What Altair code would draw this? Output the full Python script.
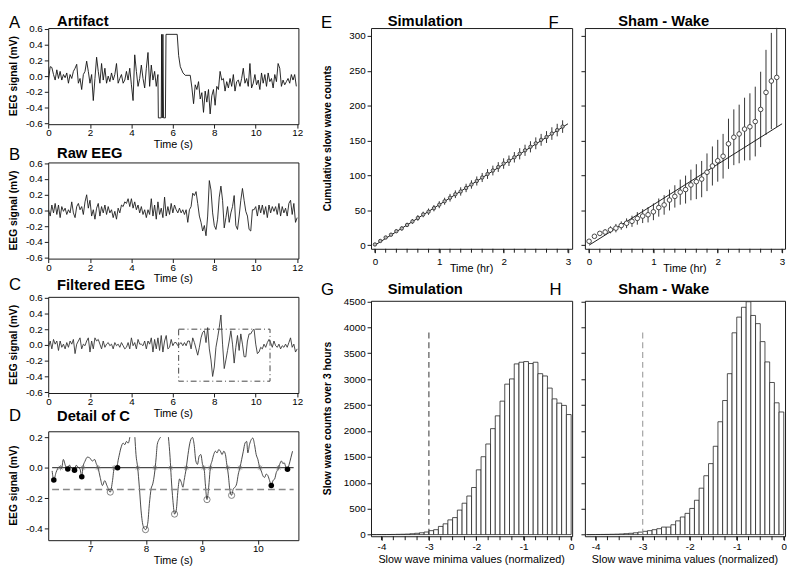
import altair as alt
import pandas as pd

FONT = "Liberation Sans"
INK = "#1a1a1a"

# ---------------- Panel A: artifact trace (time s, mV) ----------------
A_TRACE = [(0.00,-0.05),(0.08,0.12),(0.16,0.11),(0.24,0.02),(0.32,-0.05),(0.40,0.08),(0.48,-0.03),(0.56,0.06),
 (0.64,-0.05),(0.72,0.02),(0.80,-0.02),(0.88,0.04),(0.96,-0.09),(1.04,0.02),(1.12,-0.03),(1.20,0.06),(1.28,0.10),
 (1.36,0.15),(1.44,-0.09),(1.52,-0.03),(1.60,-0.17),(1.68,0.02),(1.76,0.06),(1.84,0.19),(1.92,0.06),(2.00,-0.09),
 (2.08,0.02),(2.16,-0.31),(2.24,-0.03),(2.32,0.24),(2.40,0.06),(2.48,-0.09),(2.56,0.16),(2.64,-0.05),(2.72,0.10),
 (2.80,-0.09),(2.88,0.00),(2.96,-0.07),(3.04,0.04),(3.12,-0.05),(3.20,0.02),(3.28,0.16),(3.36,-0.09),(3.44,-0.03),
 (3.52,0.02),(3.60,-0.09),(3.68,-0.05),(3.76,0.06),(3.84,-0.05),(3.92,0.10),(4.00,-0.11),(4.08,-0.31),(4.16,0.27),
 (4.24,0.06),(4.32,-0.13),(4.40,-0.03),(4.48,0.14),(4.56,-0.03),(4.64,-0.15),(4.72,0.10),(4.80,0.30),(4.88,-0.13),
 (4.96,0.14),(5.04,-0.05),(5.12,0.06),(5.20,-0.13),(5.28,0.02),
 (5.30,-0.53),(5.44,-0.53),(5.46,0.53),(5.49,-0.53),(5.52,0.53),(5.55,-0.53),(5.64,-0.53),(5.67,0.53),(6.21,0.53),
 (6.28,0.26),(6.36,0.12),(6.49,0.04),(6.60,0.01),(6.84,0.01),
 (6.92,-0.15),(7.00,-0.35),(7.08,-0.11),(7.16,-0.17),(7.24,-0.07),(7.32,-0.29),(7.40,-0.21),(7.48,-0.46),(7.56,-0.19),
 (7.64,-0.33),(7.72,-0.17),(7.80,-0.48),(7.88,-0.25),(7.96,-0.17),(8.04,-0.37),(8.12,-0.13),(8.20,-0.17),(8.28,0.06),
 (8.36,-0.05),(8.44,-0.03),(8.52,-0.19),(8.60,-0.07),(8.68,-0.15),(8.76,-0.03),(8.84,-0.13),(8.92,0.02),(9.00,-0.19),
 (9.08,-0.07),(9.16,-0.05),(9.24,-0.13),(9.32,-0.03),(9.40,0.10),(9.48,-0.09),(9.56,-0.03),(9.64,-0.13),(9.72,0.16),
 (9.80,-0.15),(9.88,-0.09),(9.96,0.02),(10.04,-0.11),(10.12,-0.05),(10.20,-0.17),(10.28,0.04),(10.36,-0.09),
 (10.44,0.02),(10.52,-0.13),(10.60,0.04),(10.68,-0.07),(10.76,-0.03),(10.84,-0.15),(10.92,0.02),(11.00,-0.07),
 (11.08,0.16),(11.16,0.10),(11.24,-0.13),(11.32,-0.05),(11.40,-0.11),(11.48,-0.07),(11.56,-0.03),(11.64,-0.09),
 (11.72,0.02),(11.80,-0.05),(11.88,0.02),(11.96,-0.13)]

# ---------------- Panel B: raw EEG ----------------
B_TRACE = [(0.00,0.01),(0.08,-0.07),(0.16,0.07),(0.24,-0.03),(0.32,0.09),(0.40,-0.05),(0.48,0.07),(0.56,-0.09),
 (0.64,0.05),(0.72,-0.01),(0.80,0.03),(0.88,-0.05),(0.96,0.01),(1.04,-0.03),(1.12,0.11),(1.20,-0.03),(1.28,-0.09),
 (1.36,0.05),(1.44,0.09),(1.52,0.01),(1.60,0.05),(1.68,-0.05),(1.76,0.11),(1.84,0.20),(1.92,0.03),(2.00,0.13),
 (2.08,-0.07),(2.16,0.01),(2.24,-0.11),(2.32,0.03),(2.40,0.09),(2.48,-0.07),(2.56,0.05),(2.64,-0.03),(2.72,0.07),
 (2.80,-0.05),(2.88,0.05),(2.96,-0.03),(3.04,0.01),(3.12,-0.09),(3.20,-0.01),(3.28,-0.11),(3.36,0.03),(3.44,-0.03),
 (3.52,0.07),(3.60,0.05),(3.68,0.11),(3.76,0.09),(3.84,0.15),(3.92,0.05),(4.00,0.15),(4.08,0.03),(4.16,0.11),
 (4.24,0.01),(4.32,0.07),(4.40,-0.03),(4.48,0.05),(4.56,-0.05),(4.64,0.01),(4.72,-0.09),(4.80,0.01),(4.88,-0.05),
 (4.96,0.15),(5.04,-0.07),(5.12,0.07),(5.20,-0.11),(5.28,0.11),(5.36,-0.05),(5.44,0.03),(5.52,-0.09),(5.60,0.17),
 (5.68,-0.07),(5.76,0.05),(5.84,-0.05),(5.92,0.09),(6.00,-0.03),(6.08,0.07),(6.16,0.01),(6.24,-0.03),(6.32,0.03),
 (6.40,-0.03),(6.48,0.01),(6.56,-0.05),(6.64,0.01),(6.72,-0.15),(6.80,0.01),(6.88,0.05),(6.96,0.22),(7.04,0.19),
 (7.12,0.24),(7.20,0.09),(7.28,-0.07),(7.36,-0.15),(7.44,-0.26),(7.52,-0.19),(7.60,-0.32),(7.68,-0.07),(7.76,0.38),
 (7.84,0.26),(7.92,-0.03),(8.00,-0.19),(8.08,-0.24),(8.16,-0.11),(8.24,0.17),(8.32,0.31),(8.40,0.13),(8.48,-0.22),
 (8.56,-0.09),(8.64,0.05),(8.72,-0.15),(8.80,-0.03),(8.88,0.05),(8.96,0.19),(9.04,-0.19),(9.12,-0.24),(9.20,-0.07),
 (9.28,0.13),(9.36,0.28),(9.44,0.13),(9.52,-0.01),(9.60,-0.07),(9.68,-0.24),(9.76,-0.26),(9.84,0.01),(9.92,0.01),
 (10.00,0.05),(10.08,-0.07),(10.16,0.07),(10.24,-0.03),(10.32,0.07),(10.40,-0.05),(10.48,0.05),(10.56,-0.09),
 (10.64,0.07),(10.72,-0.03),(10.80,0.05),(10.88,-0.01),(10.96,0.05),(11.04,-0.05),(11.12,0.09),(11.20,-0.07),
 (11.28,0.05),(11.36,-0.03),(11.44,0.03),(11.52,-0.07),(11.60,0.09),(11.68,0.13),(11.76,-0.05),(11.84,0.09),
 (11.92,-0.15),(12.00,-0.09)]

# ---------------- Panel C: filtered EEG ----------------
C_TRACE = [(0.00,-0.03),(0.08,0.05),(0.16,-0.05),(0.24,0.07),(0.32,0.01),(0.40,0.05),(0.48,-0.07),(0.56,0.05),
 (0.64,-0.03),(0.72,0.01),(0.80,-0.05),(0.88,0.03),(0.96,-0.03),(1.04,0.05),(1.12,0.01),(1.20,0.07),(1.28,-0.11),
 (1.36,0.01),(1.44,0.05),(1.52,0.09),(1.60,-0.05),(1.68,0.01),(1.76,-0.01),(1.84,0.05),(1.92,0.09),(2.00,-0.09),
 (2.08,0.05),(2.16,-0.05),(2.24,0.09),(2.32,0.05),(2.40,0.07),(2.48,0.01),(2.56,-0.05),(2.64,0.05),(2.72,-0.03),
 (2.80,0.01),(2.88,0.03),(2.96,-0.01),(3.04,0.01),(3.12,-0.05),(3.20,0.03),(3.28,-0.01),(3.36,0.01),(3.44,-0.03),
 (3.52,0.03),(3.60,-0.01),(3.68,-0.05),(3.76,-0.03),(3.84,0.03),(3.92,-0.05),(4.00,0.09),(4.08,-0.01),(4.16,0.03),
 (4.24,-0.05),(4.32,0.07),(4.40,0.01),(4.48,0.01),(4.56,-0.01),(4.64,0.05),(4.72,-0.05),(4.80,0.05),(4.88,0.01),
 (4.96,0.09),(5.04,-0.09),(5.12,0.07),(5.20,-0.05),(5.28,0.09),(5.36,-0.07),(5.44,0.12),(5.52,-0.09),(5.60,0.05),
 (5.68,0.12),(5.76,-0.05),(5.84,-0.03),(5.92,0.07),(6.00,-0.01),(6.08,0.03),(6.16,0.03),(6.24,-0.01),(6.32,0.01),
 (6.40,0.03),(6.48,-0.01),(6.56,0.03),(6.64,-0.01),(6.72,0.05),(6.80,0.05),(6.88,-0.05),(6.96,0.09),(7.04,0.03),
 (7.12,-0.05),(7.20,-0.13),(7.28,-0.03),(7.36,0.09),(7.44,0.16),(7.52,0.18),(7.60,0.03),(7.68,0.22),(7.76,-0.05),
 (7.84,-0.19),(7.92,-0.40),(8.00,-0.28),(8.08,-0.03),(8.16,0.09),(8.24,0.22),(8.32,0.38),(8.40,0.01),(8.48,-0.30),
 (8.56,-0.19),(8.64,-0.07),(8.72,0.05),(8.80,0.18),(8.88,0.01),(8.96,-0.23),(9.04,-0.03),(9.12,0.12),(9.20,-0.07),
 (9.28,0.14),(9.36,0.01),(9.44,-0.15),(9.52,-0.15),(9.60,0.05),(9.68,0.14),(9.76,0.14),(9.84,0.18),(9.92,0.20),
 (10.00,0.01),(10.08,-0.11),(10.16,-0.09),(10.24,-0.03),(10.32,-0.05),(10.40,0.01),(10.48,-0.03),(10.56,0.03),
 (10.64,0.07),(10.72,0.03),(10.80,-0.03),(10.88,0.05),(10.96,-0.01),(11.04,-0.03),(11.12,0.01),(11.20,-0.05),
 (11.28,-0.01),(11.36,-0.03),(11.44,0.01),(11.52,-0.03),(11.60,0.03),(11.68,0.09),(11.76,-0.03),(11.84,0.01),
 (11.92,-0.09),(12.00,-0.05)]
C_BOX = [(6.28, 10.69, -0.46, 0.20)]

# ---------------- Panel D: detail of C ----------------
D_TRACE = [(6.32,-0.021),(6.35,-0.081),(6.39,-0.031),(6.45,0.005),(6.49,-0.004),(6.52,0.054),(6.56,0.011),
 (6.60,-0.008),(6.63,0.018),(6.65,0.005),(6.68,-0.004),(6.72,-0.016),(6.75,0.016),(6.78,0.005),(6.82,-0.010),
 (6.85,-0.059),(6.87,0.001),(6.91,0.044),(6.95,0.069),(6.99,0.065),(7.04,0.044),(7.08,0.054),(7.11,0.026),
 (7.14,0.001),(7.18,-0.064),(7.22,-0.117),(7.26,-0.085),(7.30,-0.117),(7.36,-0.160),(7.40,-0.085),(7.43,-0.004),
 (7.47,0.001),(7.51,0.065),(7.55,0.129),(7.59,0.161),(7.62,0.151),(7.65,0.172),(7.68,0.161),(7.71,0.200),
 (7.75,0.26),(7.80,0.200),(7.82,0.086),(7.85,0.001),(7.88,-0.128),(7.91,-0.278),(7.95,-0.385),(7.99,-0.406),
 (8.03,-0.364),(8.06,-0.235),(8.09,-0.139),(8.12,-0.106),(8.15,-0.042),(8.18,0.065),(8.20,0.151),(8.23,0.183),
 (8.26,0.200),(8.33,0.38),(8.40,0.200),(8.43,0.065),(8.45,-0.064),(8.48,-0.214),(8.51,-0.304),(8.54,-0.278),
 (8.57,-0.149),(8.60,-0.074),(8.63,-0.096),(8.66,-0.128),(8.68,-0.085),(8.72,0.001),(8.75,0.086),(8.79,0.172),
 (8.83,0.198),(8.86,0.151),(8.89,0.044),(8.92,0.022),(8.95,0.076),(8.98,0.086),(9.01,0.022),(9.04,-0.010),
 (9.06,-0.106),(9.09,-0.209),(9.12,-0.128),(9.15,0.001),(9.18,0.044),(9.21,0.086),(9.24,0.108),(9.27,0.097),
 (9.30,0.119),(9.33,0.108),(9.36,0.086),(9.39,0.108),(9.42,0.086),(9.44,0.033),(9.47,-0.042),(9.50,-0.149),
 (9.53,-0.181),(9.56,-0.139),(9.59,-0.128),(9.62,-0.106),(9.65,-0.042),(9.68,0.001),(9.71,0.054),(9.74,0.108),
 (9.77,0.161),(9.80,0.172),(9.82,0.097),(9.85,0.151),(9.88,0.183),(9.91,0.194),(9.94,0.151),(9.97,0.086),
 (10.00,0.054),(10.03,0.005),(10.06,-0.021),(10.09,-0.053),(10.12,-0.064),(10.15,-0.042),(10.18,-0.053),
 (10.21,-0.085),(10.24,-0.117),(10.27,-0.085),(10.30,-0.074),(10.33,-0.031),(10.36,-0.010),(10.39,0.022),
 (10.42,0.044),(10.45,0.026),(10.47,0.033),(10.50,0.005),(10.53,-0.010),(10.56,0.022),(10.59,0.065),(10.62,0.108)]
D_CLIP = 0.2
D_CROSSINGS = [6.47, 6.87, 7.14, 7.43, 7.85, 8.16, 8.44, 8.72, 9.03, 9.15, 9.46, 9.68, 10.04, 10.37]
D_SMALL_MIN = [(6.35,-0.081),(6.60,-0.008),(6.72,-0.016),(6.85,-0.059),(7.49,0.0),(10.24,-0.117),(10.53,-0.010)]
D_SLOW_MIN = [(7.36,-0.160),(7.99,-0.406),(8.51,-0.304),(9.09,-0.209),(9.53,-0.181)]
D_SPAN = [6.32, 10.64]
D_THRESHOLD = -0.143

# ---------------- Panels E/F: cumulative counts ----------------
HOURS = [0.0,0.083,0.167,0.25,0.333,0.417,0.5,0.583,0.667,0.75,0.833,0.917,1.0,1.083,1.167,1.25,1.333,1.417,
         1.5,1.583,1.667,1.75,1.833,1.917,2.0,2.083,2.167,2.25,2.333,2.417,2.5,2.583,2.667,2.75,2.833,2.917]
E_MEAN = [1,6,11,15,20,24,29,34,39,44,48,53,58,63,68,73,77,82,87,92,97,102,107,112,117,121,126,131,136,141,
          146,151,155,160,165,170]
E_ERR = [1,1.5,2,2,2.5,3,3,3.5,4,4,4.5,4.5,5,5,5.5,5.5,6,6,6,6.5,6.5,7,7,7,7.5,7.5,7.5,8,8,8,8.5,8.5,8.5,9,9,9]
F_MEAN = [5.6,12.7,16.9,18.8,22,24.4,28.1,31.4,34.2,38.4,41.7,43.6,47.8,53.9,57.7,64.7,69.9,76,79.7,86.3,91,
          94.7,104.5,113.5,121,127.5,145.3,154.7,159.4,166.4,169.7,177.2,194.6,219,235.3,240.5]
F_ERR = [1,2,3,4,5,6,6,7,8,9,10,11,12,13,14,15,16,18,20,22,25,26,27,28,30,32,36,40,42,45,48,50,54,61,69,71]
FIT_T = [0, 3]
FIT_V = [0, 174]
HR_MAJOR = [0, 1, 2, 3]
HR_MINOR = [0,0.1667,0.3333,0.5,0.6667,0.8333,1,1.1667,1.3333,1.5,1.6667,1.8333,2,2.1667,2.3333,2.5,2.6667,
            2.8333,3]

# ---------------- Panels G/H: histograms ----------------
BIN_LEFT = [-4.2,-4.1,-4.0,-3.9,-3.8,-3.7,-3.6,-3.5,-3.4,-3.3,-3.2,-3.1,-3.0,-2.9,-2.8,-2.7,-2.6,-2.5,-2.4,-2.3,
            -2.2,-2.1,-2.0,-1.9,-1.8,-1.7,-1.6,-1.5,-1.4,-1.3,-1.2,-1.1,-1.0,-0.9,-0.8,-0.7,-0.6,-0.5,-0.4,-0.3,
            -0.2,-0.1]
BIN_WIDTH = 0.1
G_COUNTS = [0,1,1,2,3,5,7,10,16,25,35,50,76,95,158,208,284,328,473,606,745,909,1250,1503,1749,2045,2292,2576,
            2904,3005,3295,3327,3340,3302,3327,3106,3062,2828,2620,2538,2494,2317]
H_COUNTS = [0,1,2,3,4,6,8,12,18,25,35,48,63,76,95,114,145,145,190,265,340,410,505,663,896,1136,1370,1705,2178,
            2588,3106,3895,4198,4388,4495,4230,4072,3725,3333,2936,2544,2367]
CUTOFF = -3.0
G_CUT_TOP = 3950
H_CUT_TOP = 3960
HIST_MAJOR = [-4, -3, -2, -1, 0]
HIST_MINOR = [-4,-3.75,-3.5,-3.25,-3,-2.75,-2.5,-2.25,-2,-1.75,-1.5,-1.25,-1,-0.75,-0.5,-0.25,0]

SIGNED1 = "(datum.value < 0 ? '-' : '') + format(abs(datum.value), '.1f')"
SIGNED0 = "(datum.value < 0 ? '-' : '') + format(abs(datum.value), 'd')"
TICK_LEN = 4


def label(text, x, y, size=11, weight="normal", align="left", baseline="alphabetic", angle=0):
    return alt.Chart(pd.DataFrame({"s": [text]})).mark_text(
        font=FONT, fontSize=size, fontWeight=weight, align=align, baseline=baseline,
        angle=angle, color="black").encode(text="s:N", x=alt.value(x), y=alt.value(y))


def qx(field, dom, axis):
    return alt.X(field, type="quantitative", scale=alt.Scale(domain=dom, nice=False, zero=False), axis=axis)


def qy(field, dom, axis):
    return alt.Y(field, type="quantitative", scale=alt.Scale(domain=dom, nice=False, zero=False), axis=axis)


def minor_ticks(values, field, xenc_dom, axis, h):
    return alt.Chart(pd.DataFrame({field: values})).mark_rule(color=INK, strokeWidth=1).encode(
        x=qx(field, xenc_dom, axis), y=alt.value(h), y2=alt.value(h + TICK_LEN))


# ---------- left column ----------
WL = 255
HL = 98
XDOM_EEG = [-0.015, 12.06]
YDOM_EEG = [-0.61, 0.61]
AX_T = alt.Axis(values=[0, 2, 4, 6, 8, 10, 12], title=None, labelFlush=False, labelOverlap=False, labelPadding=0)
AX_V = alt.Axis(values=[-0.6, -0.4, -0.2, 0, 0.2, 0.4, 0.6], title=None, labelExpr=SIGNED1,
                labelOverlap=False, labelFlush=False)


def eeg_panel(trace, letter, title, ly, ty, color, extra=None):
    df = pd.DataFrame(trace, columns=["t", "v"])
    layers = [alt.Chart(df).mark_line(color=color, strokeWidth=0.9, clip=True).encode(
        x=qx("t", XDOM_EEG, AX_T), y=qy("v", YDOM_EEG, AX_V))]
    if extra is not None:
        layers.append(extra)
    layers += [label(letter, -40, ly, size=17),
               label(title, 9, ty, size=15, weight="bold"),
               label("EEG signal (mV)", -34.5, HL / 2, size=10.5, weight="bold", align="center",
                     baseline="middle", angle=270),
               label("Time (s)", WL / 2, HL + 24, align="center")]
    return alt.layer(*layers).properties(width=WL, height=HL)


box_df = pd.DataFrame(C_BOX, columns=["t0", "t1", "v0", "v1"])
box = alt.Chart(box_df).mark_rect(fillOpacity=0, stroke="#444", strokeWidth=1, strokeDash=[6, 3, 1, 3]).encode(
    x=qx("t0", XDOM_EEG, AX_T), x2="t1", y=qy("v0", YDOM_EEG, AX_V), y2="v1")

panel_a = eeg_panel(A_TRACE, "A", "Artifact", 0, -2, "#111")
panel_b = eeg_panel(B_TRACE, "B", "Raw EEG", -2.5, -5, "#1c1c1c")
panel_c = eeg_panel(C_TRACE, "C", "Filtered EEG", -6.5, -6.5, "#333", extra=box)

# panel D
HD = 111
XDOM_D = [6.25, 10.725]
YDOM_D = [-0.475, 0.2386]
AX_TD = alt.Axis(values=[7, 8, 9, 10], title=None, labelFlush=False, labelOverlap=False, labelPadding=0)
AX_VD = alt.Axis(values=[-0.4, -0.2, 0, 0.2], title=None, labelExpr=SIGNED1, labelOverlap=False, labelFlush=False)
d_df = pd.DataFrame(D_TRACE, columns=["t", "v"])
d_df["seg"] = (d_df["v"] > D_CLIP).cumsum()
d_df = d_df[d_df["v"] <= D_CLIP]
XD = qx("t", XDOM_D, AX_TD)
YD = qy("v", YDOM_D, AX_VD)
d_trace = alt.Chart(d_df).mark_line(color="#333", strokeWidth=0.9, interpolate="monotone", clip=True).encode(
    x=XD, y=YD, detail="seg:N")
zero_df = pd.DataFrame({"t": D_SPAN, "v": [0, 0]})
thr_df = pd.DataFrame({"t": D_SPAN, "v": [D_THRESHOLD, D_THRESHOLD]})
d_zero = alt.Chart(zero_df).mark_line(color=INK, strokeWidth=1).encode(x=XD, y=YD)
d_thr = alt.Chart(thr_df).mark_line(color="#888", strokeWidth=1.4, strokeDash=[7, 4]).encode(x=XD, y=YD)
STAR = "M-1,0L1,0M0,-1L0,1M-0.7,-0.7L0.7,0.7M-0.7,0.7L0.7,-0.7"
d_star = alt.Chart(pd.DataFrame({"t": D_CROSSINGS, "v": [0] * len(D_CROSSINGS)})).mark_point(
    shape=STAR, filled=False, color="#666", strokeWidth=0.9, size=30).encode(x=XD, y=YD)
d_dots = alt.Chart(pd.DataFrame(D_SMALL_MIN, columns=["t", "v"])).mark_point(
    shape="circle", filled=True, color="black", size=32, opacity=1).encode(x=XD, y=YD)
d_circ = alt.Chart(pd.DataFrame(D_SLOW_MIN, columns=["t", "v"])).mark_point(
    shape="circle", filled=False, color="#222", strokeWidth=0.8, size=40).encode(x=XD, y=YD)
panel_d = alt.layer(
    d_trace, d_zero, d_thr, d_star, d_dots, d_circ,
    label("D", -40, -10, size=17),
    label("Detail of C", 9, -10.5, size=15, weight="bold"),
    label("EEG signal (mV)", -34.5, HD / 2, size=10.5, weight="bold", align="center", baseline="middle", angle=270),
    label("Time (s)", WL / 2, HD + 24, align="center"),
).properties(width=WL, height=HD)

# ---------- right column ----------
WE, WF = 205, 204
HE, HG = 225, 240
YDOM_E = [-5.2, 311.25]
AX_HR = alt.Axis(values=HR_MAJOR, title=None, labelExpr=SIGNED0, labelOverlap=False, labelFlush=False,
                 labelPadding=4)


def cum_panel(means, errs, xdom, letter, lx, title, tx, show_labels, width, pt_fill, pt_size):
    df = pd.DataFrame({"t": HOURS, "m": means, "e": errs})
    df["lo"] = df["m"] - df["e"]
    df["hi"] = df["m"] + df["e"]
    ay = alt.Axis(values=[0, 50, 100, 150, 200, 250, 300], title=None, labels=show_labels, labelOverlap=False)
    X = qx("t", xdom, AX_HR)
    bars = alt.Chart(df).mark_rule(color="#333", strokeWidth=1).encode(
        x=X, y=qy("lo", YDOM_E, ay), y2="hi")
    fit = alt.Chart(pd.DataFrame({"t": FIT_T, "m": FIT_V})).mark_line(color=INK, strokeWidth=1).encode(
        x=X, y=qy("m", YDOM_E, ay))
    pts = alt.Chart(df).mark_point(shape="circle", filled=True, fill=pt_fill, stroke="#333", strokeWidth=0.9,
                                   size=pt_size, opacity=1).encode(x=X, y=qy("m", YDOM_E, ay))
    layers = [bars, fit, pts, minor_ticks(HR_MINOR, "t", xdom, AX_HR, HE),
              label(letter, lx, 0, size=17), label(title, tx, -2, size=15, weight="bold"),
              label("Time (hr)", width / 2, HE + 24, align="center")]
    if show_labels:
        layers.append(label("Cumulative slow wave counts", -44, HE / 2, size=10.5, weight="bold", align="center",
                            baseline="middle", angle=270))
    return alt.layer(*layers).properties(width=width, height=HE)


panel_e = cum_panel(E_MEAN, E_ERR, [-0.061, 3.065], "E", -51, "Simulation", 17, True, WE, "#bbb", 12)
panel_f = cum_panel(F_MEAN, F_ERR, [-0.065, 3.046], "F", -37, "Sham - Wake", 34, False, WF, "white", 22)

YDOM_G = [-32, 4513]
AX_N = alt.Axis(values=HIST_MAJOR, title=None, labelExpr=SIGNED0, labelOverlap=False, labelFlush=False,
                labelPadding=1)


def hist_panel(counts, xdom, letter, lx, title, tx, show_labels, width, cut_top, cut_color):
    df = pd.DataFrame({"lo": BIN_LEFT, "n": counts})
    df["hi"] = df["lo"] + BIN_WIDTH
    df["zero"] = 0
    ay = alt.Axis(values=[0, 500, 1000, 1500, 2000, 2500, 3000, 3500, 4000, 4500], title=None,
                  labels=show_labels, format="d", labelOverlap=False)
    bars = alt.Chart(df).mark_bar(fill="white", stroke="#222", strokeWidth=0.8, clip=True).encode(
        x=qx("lo", xdom, AX_N), x2="hi", y=qy("n", YDOM_G, ay), y2="zero")
    cut = alt.Chart(pd.DataFrame({"lo": [CUTOFF], "n": [0], "top": [cut_top]})).mark_rule(
        color=cut_color, strokeWidth=1.1, strokeDash=[6, 4]).encode(
        x=qx("lo", xdom, AX_N), y=qy("n", YDOM_G, ay), y2="top")
    layers = [bars, cut, minor_ticks(HIST_MINOR, "lo", xdom, AX_N, HG),
              label(letter, lx, -6, size=17), label(title, tx, -7, size=15, weight="bold"),
              label("Slow wave minima values (normalized)", width / 2, HG + 27, align="center")]
    if show_labels:
        layers.append(label("Slow wave counts over 3 hours", -43.5, HG / 2, size=10.5, weight="bold",
                            align="center", baseline="middle", angle=270))
    return alt.layer(*layers).properties(width=width, height=HG)


panel_g = hist_panel(G_COUNTS, [-4.221, 0.021], "G", -51, "Simulation", 17, True, WE, G_CUT_TOP, "#444")
panel_h = hist_panel(H_COUNTS, [-4.23, 0.027], "H", -36, "Sham - Wake", 34, False, WF, H_CUT_TOP, "#999")

left = alt.vconcat(panel_a, panel_b, panel_c, panel_d, spacing=39, bounds="flush")
right = alt.concat(panel_e, panel_f, panel_g, panel_h, columns=2, spacing={"row": 53, "column": 13},
                   bounds="flush")
chart = alt.hconcat(left, right, spacing=17, padding=0)

chart = chart.configure_view(stroke=INK, strokeWidth=1).configure_axis(
    domain=False, grid=False, ticks=True, tickColor=INK, tickSize=TICK_LEN, tickWidth=1,
    labelFont=FONT, labelFontSize=10, labelColor="black", labelPadding=2)

chart.save("out.html", embed_options={"renderer": "svg", "actions": False})
